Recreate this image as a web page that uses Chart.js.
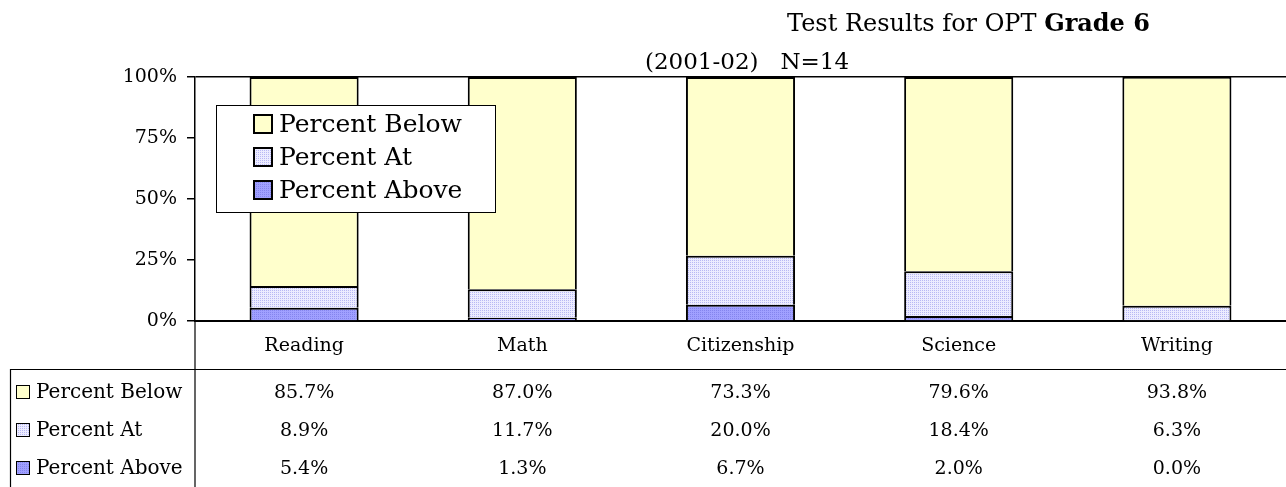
<!DOCTYPE html>
<html>
<head>
<meta charset="utf-8">
<script src="https://cdn.jsdelivr.net/npm/chart.js@4"></script>
<style>
  html, body { margin: 0; padding: 0; background: #fff; }
</style>
</head>
<body>
<canvas id="resultados" width="1286" height="487"></canvas>
<script>
// datos de la prueba
const materias = ['Reading', 'Math', 'Citizenship', 'Science', 'Writing'];
const pctBelow = [85.7, 87.0, 73.3, 79.6, 93.8];
const pctAt = [8.9, 11.7, 20.0, 18.4, 6.3];
const pctAbove = [5.4, 1.3, 6.7, 2.0, 0.0];
const marcasY = [0, 25, 50, 75, 100];

const fuente = '"DejaVu Serif", serif';

// relleno punteado tipo excel
function trama(fondo, punto) {
    const c = document.createElement('canvas');
    c.width = 2; c.height = 2;
    const g = c.getContext('2d');
    g.fillStyle = fondo;
    g.fillRect(0, 0, 2, 2);
    g.fillStyle = punto;
    g.fillRect(0, 0, 1, 1);
    return g.createPattern(c, 'repeat');
}

const ctx = document.getElementById('resultados').getContext('2d');
const colorBelow = '#FFFFCC';
const colorAt = trama('#ECECFF', '#B8B8F4');
const colorAbove = trama('#A0A0FF', '#8484EE');

const series = [
    { label: 'Percent Below', data: pctBelow, fill: colorBelow },
    { label: 'Percent At', data: pctAt, fill: colorAt },
    { label: 'Percent Above', data: pctAbove, fill: colorAbove }
];

// titulo, leyenda y tabla de datos
const extras = {
    id: 'extras',
    afterDraw(chart) {
        const g = chart.ctx;
        const x = chart.scales.x;
        const area = chart.chartArea;
        g.save();
        g.fillStyle = '#000';
        g.textBaseline = 'alphabetic';

        // titulo
        g.textAlign = 'left';
        g.font = '24px ' + fuente;
        const t1 = 'Test Results for OPT ';
        g.fillText(t1, 787, 31);
        const w1 = g.measureText(t1).width;
        g.font = 'bold 24px ' + fuente;
        g.fillText('Grade 6', 787 + w1, 31);
        g.font = '23px ' + fuente;
        g.fillText('(2001-02)   N=14', 645, 69);

        // leyenda dentro del area
        g.fillStyle = '#fff';
        g.fillRect(216, 105, 279, 107);
        g.strokeStyle = '#000';
        g.lineWidth = 1;
        g.strokeRect(216.5, 105.5, 279, 107);
        g.font = '25px ' + fuente;
        g.textBaseline = 'middle';
        const filasLey = [124, 157, 190];
        series.forEach((s, i) => {
            g.fillStyle = s.fill;
            g.fillRect(254, filasLey[i] - 9, 18, 18);
            g.lineWidth = 2;
            g.strokeStyle = '#000';
            g.strokeRect(254, filasLey[i] - 9, 18, 18);
            g.fillStyle = '#000';
            g.fillText(s.label, 279, filasLey[i] + 1);
        });

        // lineas de la tabla
        g.strokeStyle = '#000';
        g.lineWidth = 1.2;
        g.beginPath();
        g.moveTo(10, 369.5); g.lineTo(1286, 369.5);
        g.moveTo(area.left, area.bottom); g.lineTo(area.left, 487);
        g.moveTo(10.5, 369); g.lineTo(10.5, 487);
        g.stroke();

        // filas de la tabla
        const filasTab = [392, 430, 468];
        series.forEach((s, i) => {
            const y = filasTab[i];
            g.fillStyle = s.fill;
            g.fillRect(16, y - 7, 14, 14);
            g.lineWidth = 1;
            g.strokeRect(16.5, y - 6.5, 13, 13);
            g.fillStyle = '#000';
            g.textAlign = 'left';
            g.font = '20px ' + fuente;
            g.fillText(s.label, 36, y + 1);
            g.textAlign = 'center';
            g.font = '19px ' + fuente;
            s.data.forEach((v, j) => {
                g.fillText(v.toFixed(1) + '%', x.getPixelForValue(j), y + 1);
            });
        });
        g.restore();
    }
};

// borde sin la parte de abajo para que no se duplique entre tramos
const bordeBarra = c => (c.raw === 0 ? 0 : { top: 2, left: 2, right: 2, bottom: 0 });

new Chart(ctx, {
    type: 'bar',
    data: {
        labels: materias,
        datasets: series.slice().reverse().map(s => ({
            label: s.label,
            data: s.data,
            backgroundColor: s.fill,
            borderColor: '#000',
            borderWidth: bordeBarra,
            borderSkipped: false,
            categoryPercentage: 0.5,
            barPercentage: 1
        }))
    },
    options: {
        responsive: false,
        animation: false,
        layout: { padding: { top: 77, left: 0, right: 0, bottom: 0 } },
        plugins: {
            legend: { display: false },
            title: { display: false },
            tooltip: { enabled: false }
        },
        scales: {
            x: {
                stacked: true,
                afterFit: s => { s.height = 166; },
                grid: { display: false, drawTicks: false },
                border: { display: true, color: '#000', width: 2 },
                ticks: {
                    color: '#000',
                    padding: 14,
                    font: { family: fuente, size: 19 }
                }
            },
            y: {
                stacked: true,
                min: 0,
                max: 100,
                afterFit: s => { s.width = 195; },
                afterBuildTicks: s => { s.ticks = marcasY.map(v => ({ value: v })); },
                grid: {
                    color: c => (c.tick && c.tick.value === 100 ? '#000' : 'rgba(0,0,0,0)'),
                    tickColor: '#000',
                    tickLength: 8,
                    lineWidth: 1.5
                },
                border: { display: true, color: '#000', width: 1.5 },
                ticks: {
                    color: '#000',
                    padding: 10,
                    font: { family: fuente, size: 19 },
                    callback: v => v + '%'
                }
            }
        }
    },
    plugins: [extras]
});
</script>
</body>
</html>
